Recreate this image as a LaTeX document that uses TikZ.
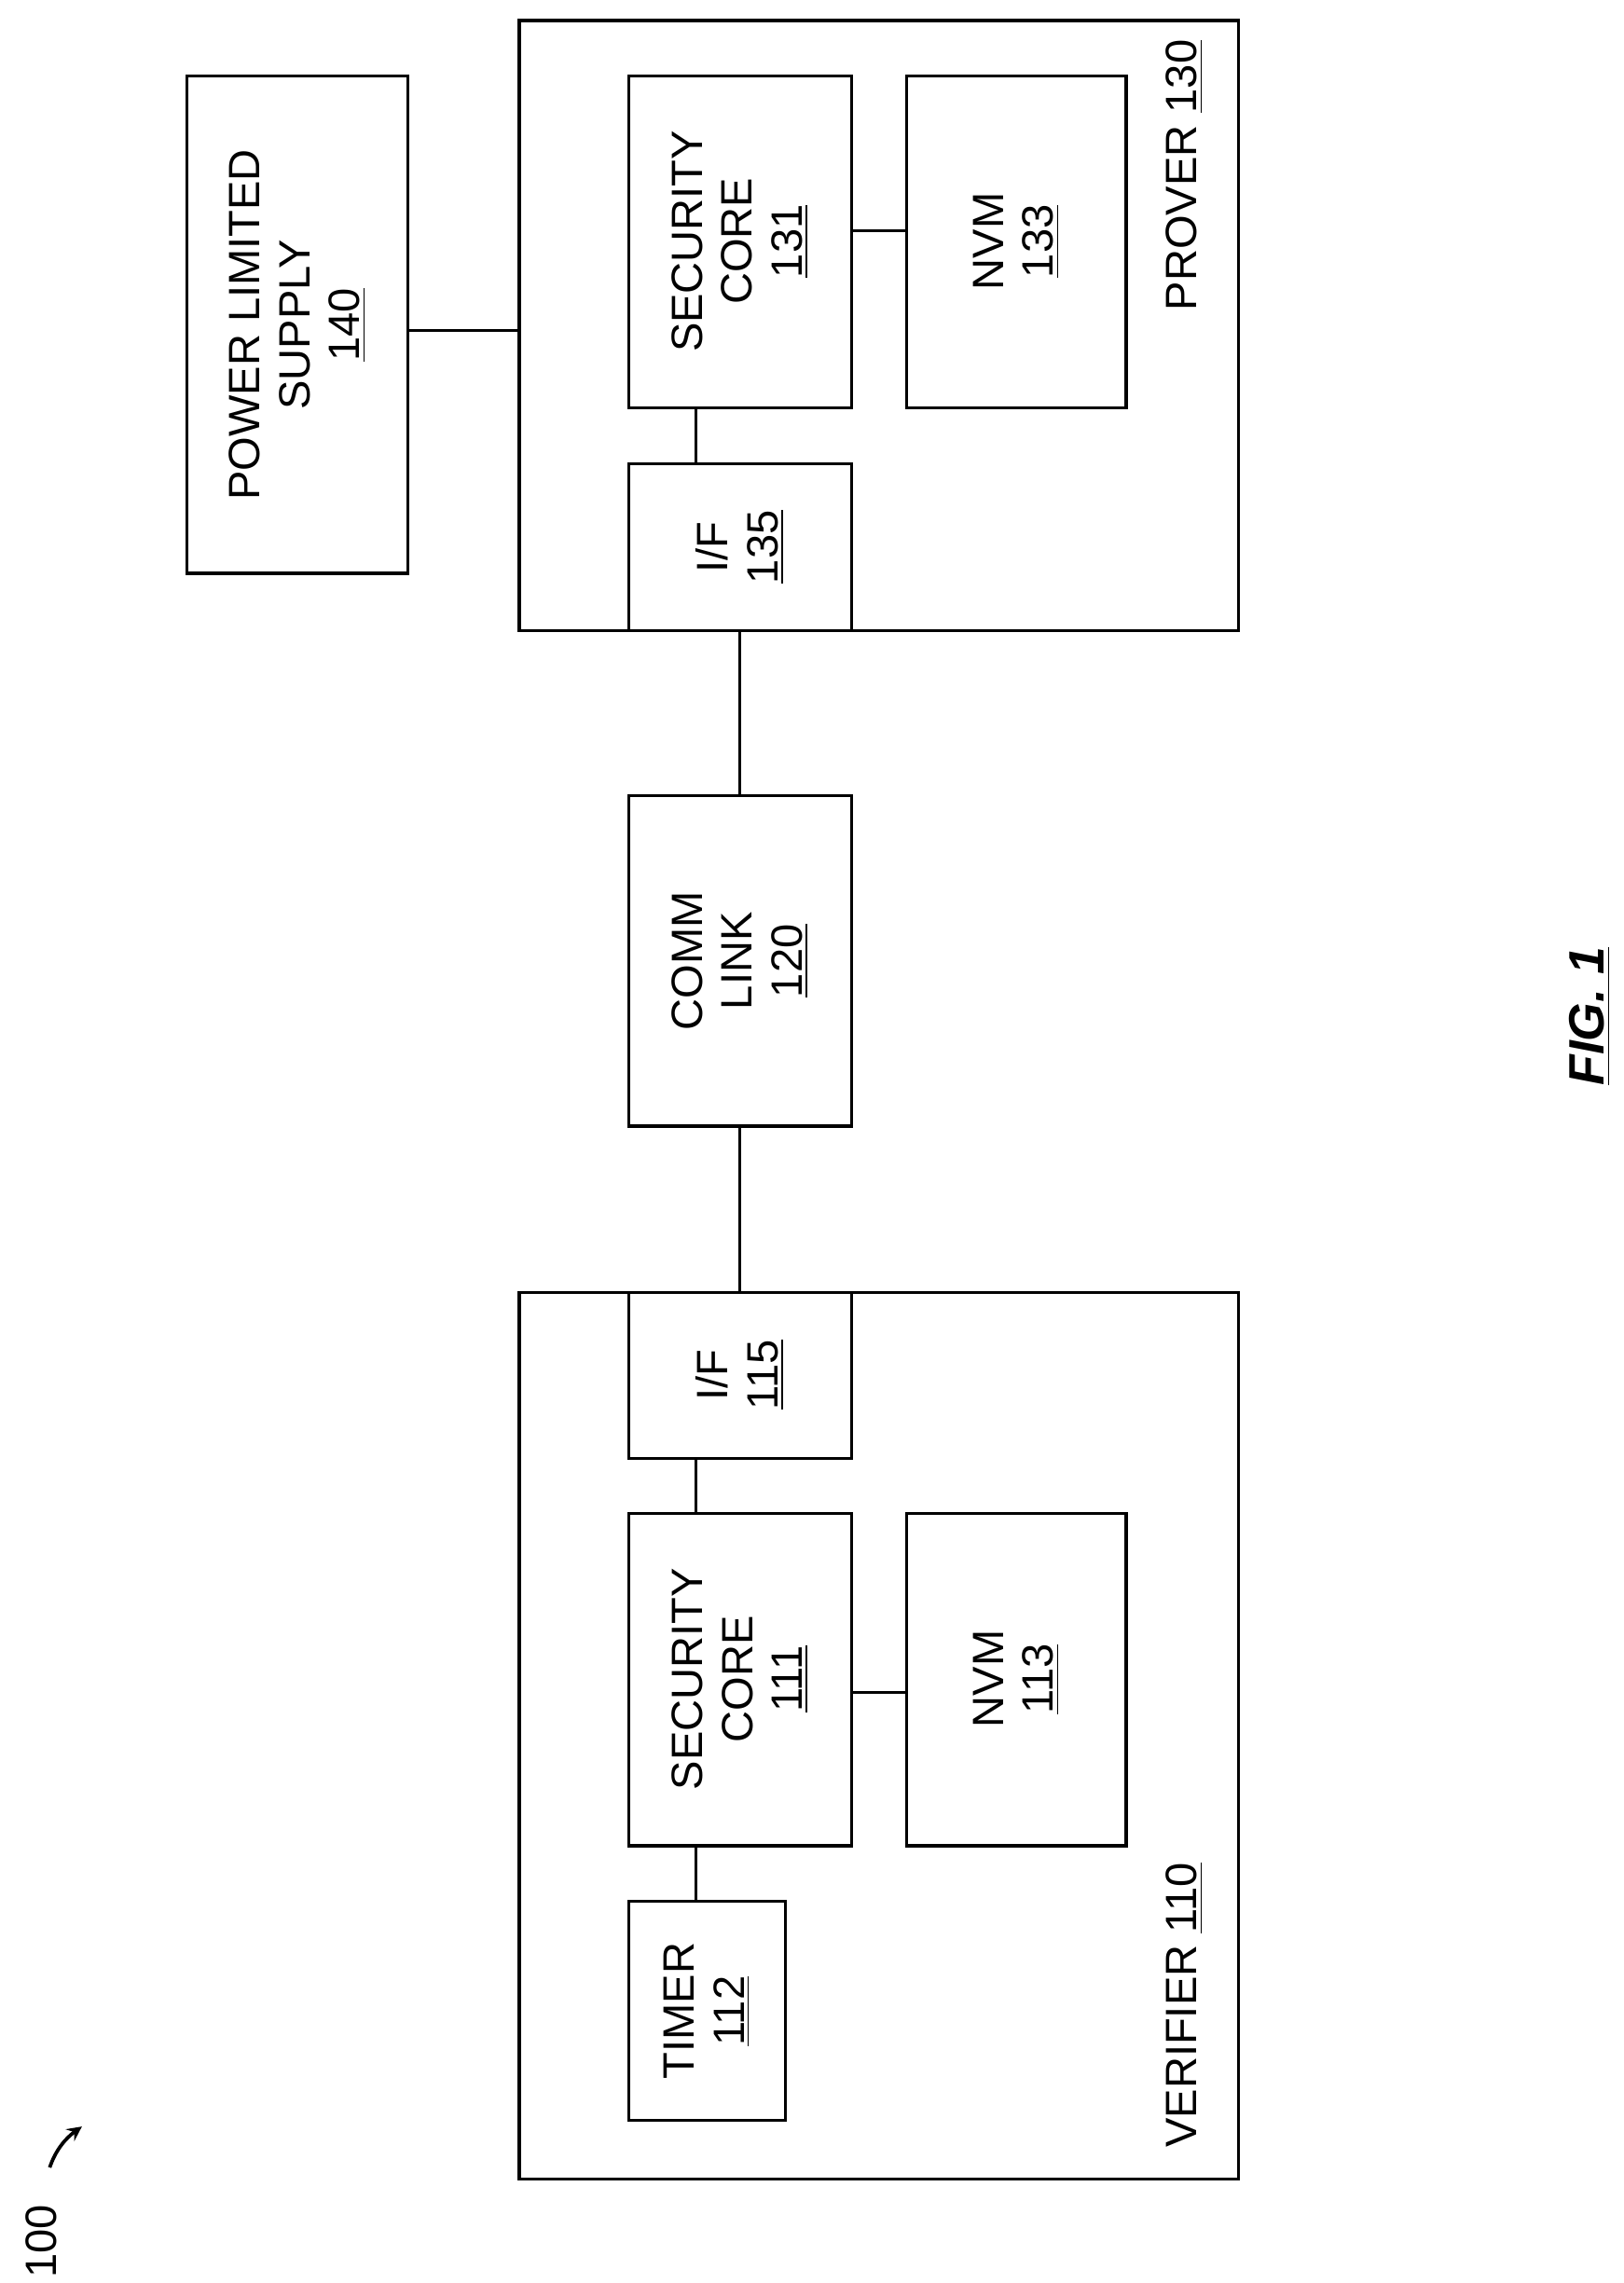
\documentclass[tikz,border=0pt]{standalone}
\usepackage{fontspec}
\setmainfont{Liberation Sans}
\begin{document}
\begin{tikzpicture}[x=0.5pt,y=-0.5pt,line width=1pt,
  box/.style={draw,fill=white,inner sep=0pt},
  lbl/.style={rotate=90,align=center,font=\fontsize{15}{17}\selectfont}]
\useasboundingbox (0,0) rectangle (1110,1561);
% prover
\draw (355,14) rectangle (847,431) coordinate (prv);
\node[lbl,anchor=south west] (prl) at (830,220) {PROVER \underline{130}};
\draw (128,52) rectangle (279,392);
\node[lbl] (pls) at (203.5,222) {POWER LIMITED\\SUPPLY\\\underline{140}};
\draw (430,52) rectangle (582,279);
\node[lbl] (sc1) at (506,165) {SECURITY\\CORE\\\underline{131}};
\draw (620,52) rectangle (770,279);
\node[lbl] (nv1) at (695,165) {NVM\\\underline{133}};
\draw (430,317) rectangle (582,431);
\node[lbl] (if1) at (506,374) {I/F\\\underline{135}};
\draw (430,544) rectangle (582,770);
\node[lbl] (cl) at (506,657) {COMM\\LINK\\\underline{120}};
% verifier
\draw (355,884) rectangle (847,1490);
\node[lbl,anchor=south west] (vl) at (830,1476) {VERIFIER \underline{110}};
\draw (430,884) rectangle (582,997);
\node[lbl] (if2) at (506,940) {I/F\\\underline{115}};
\draw (430,1035) rectangle (582,1262);
\node[lbl] (sc2) at (506,1148) {SECURITY\\CORE\\\underline{111}};
\draw (620,1035) rectangle (770,1262);
\node[lbl] (nv2) at (695,1148) {NVM\\\underline{113}};
\draw (430,1300) rectangle (537,1450);
\node[lbl] (tm) at (483.5,1375) {TIMER\\\underline{112}};
% connectors
\draw (279,226) -- (355,226);
\draw (582,158) -- (620,158);
\draw (476,279) -- (476,317);
\draw (506,431) -- (506,544);
\draw (506,770) -- (506,884);
\draw (476,997) -- (476,1035);
\draw (582,1157) -- (620,1157);
\draw (476,1262) -- (476,1300);
% 100
\node[lbl,anchor=east] (n100) at (28,1500) {100};
\draw[-stealth,line width=1.2pt] (34,1482) .. controls (38,1470) and (45,1462) .. (56,1454);
\node[rotate=90,font=\fontsize{17}{20}\selectfont\bfseries\itshape] (fig) at (1087,695) {\underline{FIG. 1}};
\end{tikzpicture}
\end{document}
